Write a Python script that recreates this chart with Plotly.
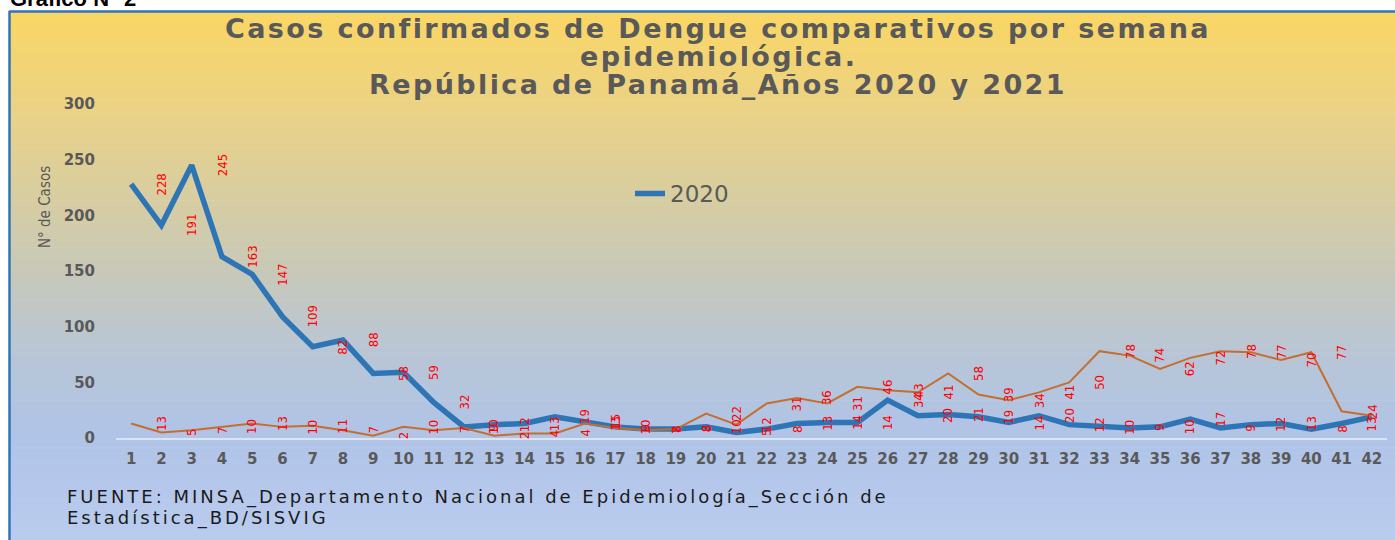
import plotly.graph_objects as go

# ---------------- data ----------------
weeks = [1, 2, 3, 4, 5, 6, 7, 8, 9, 10, 11, 12, 13, 14, 15, 16, 17, 18, 19, 20, 21,
         22, 23, 24, 25, 26, 27, 28, 29, 30, 31, 32, 33, 34, 35, 36, 37, 38, 39, 40, 41, 42]
week_labels = [str(w) for w in weeks]
cases_2020 = [228, 191, 245, 163, 147, 109, 82, 88, 58, 59, 32, 10, 12, 13, 19, 15, 10, 8, 8, 10, 5,
              8, 13, 14, 14, 34, 20, 21, 19, 14, 20, 12, 10, 9, 10, 17, 9, 12, 13, 8, 13, 19]
cases_2021 = [13, 5, 7, 10, 13, 10, 11, 7, 2, 10, 7, 9, 2, 4, 4, 13, 9, 7, 8, 22, 12,
              31, 36, 31, 46, 43, 41, 58, 39, 34, 41, 50, 78, 74, 62, 72, 78, 77, 70, 77, 24, 20]
y_ticks = [0, 50, 100, 150, 200, 250, 300]

title_lines = ["Casos confirmados de Dengue comparativos por semana",
               "epidemiológica.",
               "República de Panamá_Años 2020 y 2021"]
source_lines = ["FUENTE: MINSA_Departamento Nacional de Epidemiología_Sección de",
                "Estadística_BD/SISVIG"]

# ---------------- geometry helpers (pixel -> paper) ----------------
W, H = 1395, 540
L, R, T, B = 116, 1387, 104, 437.7


def px(xp):
    return (xp - L) / (R - L)


def py(yp):
    return (B - yp) / (B - T)


def spaced(text, ls):
    return '<span style="letter-spacing:%spx">%s</span>' % (ls, text)


GRAY = "#595959"
BLUE = "#2E75B6"
ORANGE = "#C46E30"
LABEL_FONT = "Liberation Sans Narrow, DejaVu Sans Condensed, Arial Narrow, sans-serif"
TICK_FONT = "DejaVu Sans, Verdana, sans-serif"

fig = go.Figure()

fig.add_trace(go.Scatter(x=weeks, y=cases_2020, mode="lines", name="2020",
                         line=dict(color=BLUE, width=5.5)))
fig.add_trace(go.Scatter(x=weeks, y=cases_2021, mode="lines", name="2021",
                         line=dict(color=ORANGE, width=2), showlegend=False))

# ---------------- background gradient ----------------
stops = [(12, (250, 214, 100)), (100, (237, 211, 130)), (200, (215, 205, 162)),
         (280, (198, 200, 188)), (360, (183, 197, 215)), (440, (176, 196, 232)),
         (540, (186, 204, 238))]


def color_at(yp):
    for (y0, c0), (y1, c1) in zip(stops[:-1], stops[1:]):
        if y0 <= yp <= y1:
            t = (yp - y0) / (y1 - y0)
            return "rgb(%d,%d,%d)" % tuple(round(a + (b - a) * t) for a, b in zip(c0, c1))
    return "rgb(%d,%d,%d)" % stops[-1][1]


shapes = []
N = 90
top_px, bot_px = 12, 541
hgt = (bot_px - top_px) / N
for i in range(N):
    y0p = top_px + i * hgt
    y1p = y0p + hgt + 0.6
    shapes.append(dict(type="rect", xref="paper", yref="paper", layer="below",
                       x0=px(10), x1=px(1400), y0=py(y1p), y1=py(y0p),
                       line=dict(width=0), fillcolor=color_at(y0p + hgt / 2)))
# frame border (left and top)
shapes.append(dict(type="line", xref="paper", yref="paper", x0=px(9.5), x1=px(9.5),
                   y0=py(541), y1=py(11), line=dict(color=BLUE, width=2.5)))
shapes.append(dict(type="line", xref="paper", yref="paper", x0=px(9), x1=px(1400),
                   y0=py(11.5), y1=py(11.5), line=dict(color=BLUE, width=2.5)))

# ---------------- annotations ----------------
annotations = []
# data labels (rotated, placed one week to the right, as in the source)
for series in (cases_2020, cases_2021):
    for w, v in zip(weeks, series):
        annotations.append(dict(x=w + 1, y=v, xref="x", yref="y", text=str(v),
                                showarrow=False, textangle=-90,
                                font=dict(family=LABEL_FONT, size=13, color="#FF0000")))

# title lines
for line, yp in zip(title_lines, [29, 57, 85]):
    annotations.append(dict(x=px(718), y=py(yp), xref="paper", yref="paper",
                            text=spaced(line, 2.4),
                            showarrow=False, xanchor="center", yanchor="middle",
                            font=dict(family="DejaVu Sans, sans-serif", size=27,
                                      color=GRAY, weight="bold")))

# y-axis title
annotations.append(dict(x=px(45), y=py(207), xref="paper", yref="paper", text="N° de Casos",
                        showarrow=False, textangle=-90, xanchor="center", yanchor="middle",
                        font=dict(family=LABEL_FONT, size=15, color=GRAY)))

# source lines
for line, yp in zip(source_lines, [497, 518]):
    annotations.append(dict(x=px(65), y=py(yp), xref="paper", yref="paper",
                            text=spaced(line, 3),
                            showarrow=False, xanchor="left", yanchor="middle",
                            font=dict(family="DejaVu Sans, sans-serif", size=18, color="#1a1a1a")))

# partially visible heading above the chart frame
annotations.append(dict(x=px(8), y=py(-1), xref="paper", yref="paper", text="<b>Gráfico N° 2</b>",
                        showarrow=False, xanchor="left", yanchor="middle",
                        font=dict(family="Liberation Sans, Arial, sans-serif", size=22, color="#000000")))

fig.update_layout(
    width=W, height=H,
    margin=dict(l=L, r=W - R, t=T, b=H - B, pad=0),
    paper_bgcolor="white",
    plot_bgcolor="rgba(0,0,0,0)",
    shapes=shapes,
    annotations=annotations,
    showlegend=True,
    legend=dict(x=px(630), y=py(172), xanchor="left", yanchor="top",
                bgcolor="rgba(0,0,0,0)",
                font=dict(family="DejaVu Sans, sans-serif", size=23, color=GRAY)),
    xaxis=dict(range=[0.5, 42.5], tickmode="array", tickvals=weeks, ticktext=week_labels,
               showgrid=False, zeroline=False, showline=True, linecolor="#DCE4F2", linewidth=2,
               ticks="", ticklabelstandoff=6,
               tickfont=dict(family=TICK_FONT, size=15, color=GRAY, weight="bold")),
    yaxis=dict(range=[0, 300], tickmode="array", tickvals=y_ticks,
               showgrid=False, zeroline=False, showline=False, ticks="",
               ticklabelstandoff=20,
               tickfont=dict(family=TICK_FONT, size=15, color=GRAY, weight="bold")),
)

fig.write_html("out.html", config={"displayModeBar": False},
               post_script="document.body.style.margin='0';document.body.style.overflow='hidden';")
